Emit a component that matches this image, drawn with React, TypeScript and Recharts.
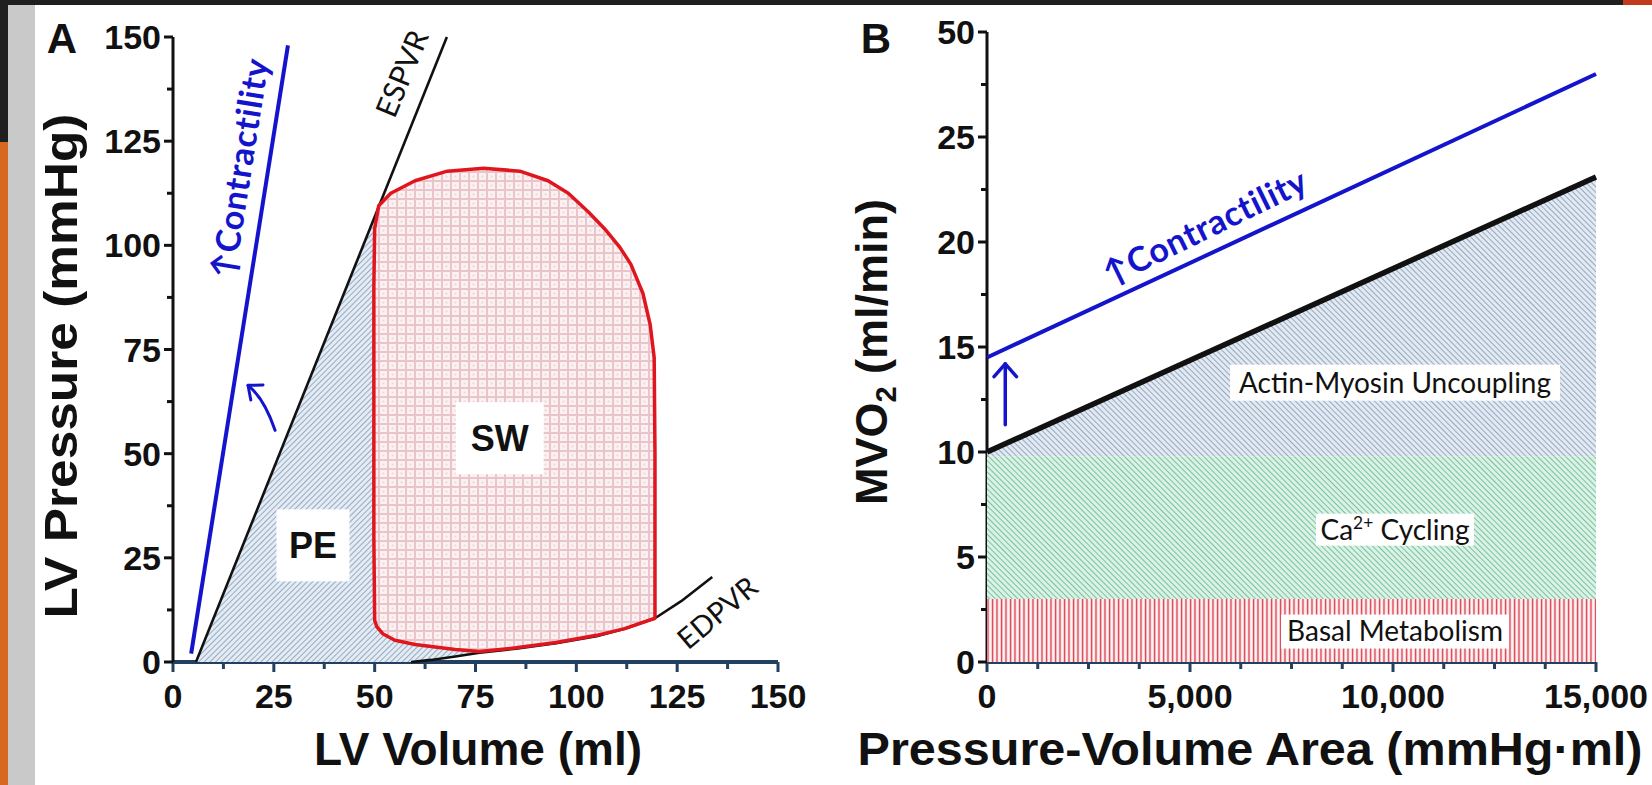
import React from 'react';
import { Scatter, ScatterChart, XAxis, YAxis } from 'recharts';

type Pt = { x: number; y: number };

const BOLD = '"Liberation Sans", Arial, sans-serif';
const SOFT = 'Lato, "Open Sans", sans-serif';
const BLUE = '#1414cc';
const RED = '#e0161e';
const NAVY = '#22405f';
const INK = '#111';

// ---------- panel A: pressure-volume plane ----------
const volTicks = [0, 12.5, 25, 37.5, 50, 62.5, 75, 87.5, 100, 112.5, 125, 137.5, 150];
const volMajor = [0, 25, 50, 75, 100, 125, 150];
const volLabels = ['0', '25', '50', '75', '100', '125', '150'];
const pressTicks = [0, 12.5, 25, 37.5, 50, 62.5, 75, 87.5, 100, 112.5, 125, 137.5, 150];
const pressMajor = [0, 25, 50, 75, 100, 125, 150];
const pressLabels = ['0', '25', '50', '75', '100', '125', '150'];

const contractilityA: Pt[] = [{ x: 4.5, y: 2 }, { x: 28.5, y: 148 }];
const espvr: Pt[] = [{ x: 5.7, y: 0 }, { x: 67.9, y: 150 }];
const edpvr: Pt[] = [
  { x: 59, y: 0 }, { x: 64, y: 0.5 }, { x: 70, y: 1.3 }, { x: 76, y: 2.2 },
  { x: 85, y: 3.2 }, { x: 95, y: 4.5 }, { x: 105, y: 6.2 }, { x: 112, y: 8 },
  { x: 119.5, y: 10.5 }, { x: 126, y: 14.6 }, { x: 133.7, y: 20.4 },
];
const pvLoop: Pt[] = [
  { x: 50, y: 10 }, { x: 49.8, y: 30 }, { x: 49.8, y: 60 }, { x: 49.8, y: 90 },
  { x: 50, y: 104 }, { x: 51, y: 109.5 }, { x: 54, y: 112.5 }, { x: 60, y: 115.5 },
  { x: 68, y: 117.8 }, { x: 77, y: 118.5 }, { x: 86, y: 117.8 }, { x: 93, y: 115.5 },
  { x: 98, y: 112.5 }, { x: 103, y: 108 }, { x: 107, y: 104 }, { x: 110.8, y: 99.5 },
  { x: 113.5, y: 95.5 }, { x: 116.5, y: 88.5 }, { x: 118.3, y: 81 }, { x: 119.3, y: 73 },
  { x: 119.5, y: 50 }, { x: 119.5, y: 25 }, { x: 119.5, y: 10.5 }, { x: 112, y: 8 },
  { x: 105, y: 6.4 }, { x: 95, y: 4.7 }, { x: 85, y: 3.4 }, { x: 76, y: 2.5 },
  { x: 70, y: 3 }, { x: 65, y: 3.6 }, { x: 60, y: 4.2 }, { x: 55, y: 5.2 },
  { x: 52, y: 6.8 }, { x: 50.5, y: 8.5 }, { x: 50, y: 10 },
];
const peArea: Pt[] = [
  { x: 5.7, y: 0 }, { x: 50.8, y: 108.7 }, { x: 49.8, y: 90 }, { x: 49.8, y: 30 },
  { x: 50, y: 10 }, { x: 50.5, y: 8.5 }, { x: 52, y: 6.8 }, { x: 55, y: 5.2 },
  { x: 60, y: 4.2 }, { x: 65, y: 3.6 }, { x: 70, y: 3 }, { x: 76, y: 2.4 },
  { x: 70, y: 1.3 }, { x: 64, y: 0.5 }, { x: 59, y: 0 },
];
const curvedArrowA: Pt[] = [{ x: 25.3, y: 55.6 }, { x: 22.3, y: 62.1 }, { x: 18.6, y: 66.4 }];

const peLabel = [{ x: 34.7, y: 28, text: 'PE' }];
const swLabel = [{ x: 81, y: 53.7, text: 'SW' }];
const espvrLabel = [{ x: 56.8, y: 141.2, text: 'ESPVR' }];
const edpvrLabel = [{ x: 135, y: 11.8, text: 'EDPVR' }];
const contractLabelA = [{ x: 16.6, y: 118.5, text: '\u2191Contractility' }];

// ---------- panel B: MVO2 vs PVA ----------
const pvaTicks = [0, 1250, 2500, 3750, 5000, 6250, 7500, 8750, 10000, 11250, 12500, 13750, 15000];
const pvaMajor = [0, 5000, 10000, 15000];
const pvaLabels = ['0', '5,000', '10,000', '15,000'];
const mvoTicks = [0, 2.5, 5, 7.5, 10, 12.5, 15, 17.5, 20, 22.5, 25, 27.5, 30];
const mvoMajor = [0, 5, 10, 15, 20, 25, 30];
const mvoLabels = ['0', '5', '10', '15', '20', '25', '50'];

const basal: Pt[] = [{ x: 0, y: 0 }, { x: 0, y: 3 }, { x: 15000, y: 3 }, { x: 15000, y: 0 }];
const caCycling: Pt[] = [{ x: 0, y: 3 }, { x: 0, y: 9.8 }, { x: 15000, y: 9.8 }, { x: 15000, y: 3 }];
const uncoupling: Pt[] = [{ x: 0, y: 9.8 }, { x: 0, y: 10 }, { x: 15000, y: 23.1 }, { x: 15000, y: 9.8 }];
const mvo2Line: Pt[] = [{ x: 0, y: 10 }, { x: 15000, y: 23.1 }];
const mvo2Contract: Pt[] = [{ x: 0, y: 14.5 }, { x: 15000, y: 28 }];
const arrowB: Pt[] = [{ x: 450, y: 11.3 }, { x: 450, y: 14.2 }];

const uncouplingLabel = [{ x: 10050, y: 13.3, text: 'Actin-Myosin Uncoupling' }];
const caLabel = [{ x: 10050, y: 6.3, text: 'Ca', sup: '2+', rest: ' Cycling' }];
const basalLabel = [{ x: 10050, y: 1.45, text: 'Basal Metabolism' }];
const contractLabelB = [{ x: 5370, y: 20.7, text: '\u2191Contractility' }];

// ---------- renderers ----------
const noDot = () => <g />;

const xTick = (majors: number[], labels: string[]) => (props: any) => {
  const { x, y, payload } = props;
  const i = majors.indexOf(payload.value);
  return (
    <g>
      <line x1={x} x2={x} y1={y} y2={y + (i >= 0 ? 10 : 7)} stroke={NAVY} strokeWidth={3} />
      {i >= 0 && (
        <text x={x} y={y + 46} textAnchor="middle" fontFamily={BOLD} fontWeight="bold" fontSize={34} fill={INK}>
          {labels[i]}
        </text>
      )}
    </g>
  );
};

const yTick = (majors: number[], labels: string[]) => (props: any) => {
  const { x, y, payload } = props;
  const i = majors.indexOf(payload.value);
  return (
    <g>
      <line x1={x} x2={x - (i >= 0 ? 9 : 6)} y1={y} y2={y} stroke={INK} strokeWidth={3} />
      {i >= 0 && (
        <text x={x - 12} y={y + 12} textAnchor="end" fontFamily={BOLD} fontWeight="bold" fontSize={34} fill={INK}>
          {labels[i]}
        </text>
      )}
    </g>
  );
};

const polygon = (fill: string, stroke = 'none', width = 0) => (p: any) => {
  const pts: Pt[] = p.points;
  const d = pts.map((q, i) => `${i ? 'L' : 'M'}${q.x},${q.y}`).join(' ') + ' Z';
  return <path d={d} fill={fill} stroke={stroke} strokeWidth={width} strokeLinejoin="round" />;
};

const polyline = (stroke: string, width: number) => (p: any) => {
  const pts: Pt[] = p.points;
  const d = pts.map((q, i) => `${i ? 'L' : 'M'}${q.x},${q.y}`).join(' ');
  return <path d={d} fill="none" stroke={stroke} strokeWidth={width} strokeLinejoin="round" />;
};

const arrow = (color: string, width: number, head: number, spread: number) => (p: any) => {
  const pts: Pt[] = p.points;
  const a = pts[0];
  const b = pts[pts.length - 1];
  let d: string;
  let from: Pt;
  if (pts.length === 3) {
    const m = pts[1];
    const c = { x: 2 * m.x - (a.x + b.x) / 2, y: 2 * m.y - (a.y + b.y) / 2 };
    d = `M${a.x},${a.y} Q${c.x},${c.y} ${b.x},${b.y}`;
    from = c;
  } else {
    d = `M${a.x},${a.y} L${b.x},${b.y}`;
    from = a;
  }
  const ang = Math.atan2(b.y - from.y, b.x - from.x);
  const h1 = { x: b.x - head * Math.cos(ang - spread), y: b.y - head * Math.sin(ang - spread) };
  const h2 = { x: b.x - head * Math.cos(ang + spread), y: b.y - head * Math.sin(ang + spread) };
  return (
    <g fill="none" stroke={color} strokeWidth={width} strokeLinecap="round" strokeLinejoin="round">
      <path d={d} />
      <path d={`M${h1.x},${h1.y} L${b.x},${b.y} L${h2.x},${h2.y}`} />
    </g>
  );
};

const boxedText = (w: number, h: number, size: number, family: string, weight: string | number) => (p: any) => {
  const { cx, cy, payload } = p;
  return (
    <g>
      <rect x={cx - w / 2} y={cy - h / 2} width={w} height={h} fill="#fff" />
      <text x={cx} y={cy} dy={size * 0.35} textAnchor="middle" fontFamily={family} fontWeight={weight} fontSize={size} fill={INK}>
        {payload.text}
        {payload.sup && (
          <tspan dy={-size * 0.38} fontSize={size * 0.62}>
            {payload.sup}
          </tspan>
        )}
        {payload.rest && <tspan dy={size * 0.38}>{payload.rest}</tspan>}
      </text>
    </g>
  );
};

const rotatedText = (angle: number, size: number, color: string, weight: string | number, spacing = 0) => (p: any) => {
  const { cx, cy, payload } = p;
  return (
    <text
      x={cx}
      y={cy}
      dy={size * 0.35}
      transform={`rotate(${angle} ${cx} ${cy})`}
      textAnchor="middle"
      fontFamily={SOFT}
      fontWeight={weight}
      fontSize={size}
      letterSpacing={spacing}
      fill={color}
    >
      {payload.text}
    </text>
  );
};

const S = { isAnimationActive: false, shape: noDot } as const;

const PanelA = () => (
  <ScatterChart width={830} height={785} margin={{ top: 37, right: 52, bottom: 63, left: 123 }}>
    <XAxis
      type="number"
      dataKey="x"
      domain={[0, 150]}
      ticks={volTicks}
      interval={0}
      tickSize={0}
      tickMargin={0}
      tickLine={false}
      axisLine={{ stroke: NAVY, strokeWidth: 4 }}
      tick={xTick(volMajor, volLabels)}
      height={60}
    />
    <YAxis
      type="number"
      dataKey="y"
      domain={[0, 150]}
      ticks={pressTicks}
      interval={0}
      tickSize={0}
      tickMargin={0}
      tickLine={false}
      axisLine={{ stroke: INK, strokeWidth: 3 }}
      tick={yTick(pressMajor, pressLabels)}
      width={50}
    />
    <Scatter {...S} data={peArea} line={polygon('url(#hatchBlue)')} />
    <Scatter {...S} data={pvLoop} line={polygon('url(#checkRed)')} />
    <Scatter {...S} data={espvr} line={polyline(INK, 2.6)} />
    <Scatter {...S} data={edpvr} line={polyline(INK, 2.6)} />
    <Scatter {...S} data={pvLoop} line={polygon('none', RED, 3.5)} />
    <Scatter {...S} data={contractilityA} line={polyline(BLUE, 4)} />
    <Scatter {...S} data={curvedArrowA} line={arrow(BLUE, 3, 15, 0.7)} />
    <Scatter {...S} data={peLabel} shape={boxedText(73, 72, 36, BOLD, 'bold')} />
    <Scatter {...S} data={swLabel} shape={boxedText(88, 72, 36, BOLD, 'bold')} />
    <Scatter {...S} data={espvrLabel} shape={rotatedText(-67.5, 30, INK, 400)} />
    <Scatter {...S} data={edpvrLabel} shape={rotatedText(-40, 29, INK, 400)} />
    <Scatter {...S} data={contractLabelA} shape={rotatedText(-81, 34, BLUE, 700, 0.6)} />
  </ScatterChart>
);

const PanelB = () => (
  <ScatterChart width={832} height={785} margin={{ top: 32, right: 56, bottom: 63, left: 117 }}>
    <XAxis
      type="number"
      dataKey="x"
      domain={[0, 15000]}
      ticks={pvaTicks}
      interval={0}
      tickSize={0}
      tickMargin={0}
      tickLine={false}
      axisLine={{ stroke: NAVY, strokeWidth: 4 }}
      tick={xTick(pvaMajor, pvaLabels)}
      height={60}
    />
    <YAxis
      type="number"
      dataKey="y"
      domain={[0, 30]}
      ticks={mvoTicks}
      interval={0}
      tickSize={0}
      tickMargin={0}
      tickLine={false}
      axisLine={{ stroke: INK, strokeWidth: 3 }}
      tick={yTick(mvoMajor, mvoLabels)}
      width={50}
    />
    <Scatter {...S} data={basal} line={polygon('url(#stripeRed)')} />
    <Scatter {...S} data={caCycling} line={polygon('url(#hatchGreen)')} />
    <Scatter {...S} data={uncoupling} line={polygon('url(#hatchBlue2)')} />
    <Scatter {...S} data={mvo2Line} line={polyline(INK, 5.5)} />
    <Scatter {...S} data={mvo2Contract} line={polyline(BLUE, 4)} />
    <Scatter {...S} data={arrowB} line={arrow(BLUE, 3.5, 17, 0.72)} />
    <Scatter {...S} data={uncouplingLabel} shape={boxedText(330, 36, 28, SOFT, 400)} />
    <Scatter {...S} data={caLabel} shape={boxedText(158, 32, 28, SOFT, 400)} />
    <Scatter {...S} data={basalLabel} shape={boxedText(228, 34, 28, SOFT, 400)} />
    <Scatter {...S} data={contractLabelB} shape={rotatedText(-26, 34, BLUE, 700, 0.6)} />
  </ScatterChart>
);

const Patterns = () => (
  <svg width={0} height={0} style={{ position: 'absolute' }}>
    <defs>
      <pattern id="hatchBlue" width={4} height={4} patternUnits="userSpaceOnUse" patternTransform="rotate(45)">
        <rect width={4} height={4} fill="#e4ebf2" />
        <line x1={0} y1={0} x2={0} y2={4} stroke="#7f9bbb" strokeWidth={1.6} />
      </pattern>
      <pattern id="hatchBlue2" width={4} height={4} patternUnits="userSpaceOnUse" patternTransform="rotate(-45)">
        <rect width={4} height={4} fill="#e2e9f1" />
        <line x1={0} y1={0} x2={0} y2={4} stroke="#8299b8" strokeWidth={1.6} />
      </pattern>
      <pattern id="hatchGreen" width={4} height={4} patternUnits="userSpaceOnUse" patternTransform="rotate(-45)">
        <rect width={4} height={4} fill="#dcf1e6" />
        <line x1={0} y1={0} x2={0} y2={4} stroke="#5cb88c" strokeWidth={1.6} />
      </pattern>
      <pattern id="stripeRed" width={4.5} height={10} patternUnits="userSpaceOnUse">
        <rect width={4.5} height={10} fill="#fff4f4" />
        <line x1={1.5} y1={0} x2={1.5} y2={10} stroke="#dc3e4f" strokeWidth={1.5} />
      </pattern>
      <pattern id="checkRed" width={9} height={9} patternUnits="userSpaceOnUse">
        <rect width={9} height={9} fill="#fbf1f2" />
        <rect x={0} y={0} width={9} height={2} fill="#ebc4c9" />
        <rect x={0} y={0} width={2} height={9} fill="#ebc4c9" />
        <circle cx={5.5} cy={5.5} r={1} fill="#efd2d6" />
      </pattern>
    </defs>
  </svg>
);

const block = (left: number, top: number, width: number, height: number, background: string) => (
  <div style={{ position: 'absolute', left, top, width, height, background }} />
);

export default function App() {
  return (
    <div style={{ position: 'absolute', left: 0, top: 0, width: 1652, height: 785, background: '#fff', overflow: 'hidden' }}>
      <Patterns />
      {block(0, 0, 1652, 5, '#1f1f1f')}
      {block(1623, 0, 29, 5, '#c23a1c')}
      {block(0, 0, 8, 142, '#1f1f1f')}
      {block(0, 142, 8, 643, '#d8671f')}
      {block(8, 5, 27, 780, '#c9c9c9')}
      <div style={{ position: 'absolute', left: 0, top: 0 }}>
        <PanelA />
      </div>
      <div style={{ position: 'absolute', left: 820, top: 0 }}>
        <PanelB />
      </div>
      <svg width={1652} height={785} style={{ position: 'absolute', left: 0, top: 0, pointerEvents: 'none' }}>
        <g fontFamily={BOLD} fontWeight="bold" fill={INK}>
          <text x={62} y={53} fontSize={42} textAnchor="middle">A</text>
          <text x={876} y={53} fontSize={42} textAnchor="middle">B</text>
          <text
            x={77}
            y={366}
            fontSize={46}
            textAnchor="middle"
            textLength={505}
            lengthAdjust="spacingAndGlyphs"
            transform="rotate(-90 77 366)"
          >
            LV Pressure (mmHg)
          </text>
          <text x={478} y={765} fontSize={46} textAnchor="middle">
            LV Volume (ml)
          </text>
          <text x={887} y={352} fontSize={45} textAnchor="middle" transform="rotate(-90 887 352)">
            MVO<tspan dy={9} fontSize={29}>2</tspan>
            <tspan dy={-9}> (ml/min)</tspan>
          </text>
          <text
            x={1250}
            y={765}
            fontSize={46}
            textAnchor="middle"
            textLength={785}
            lengthAdjust="spacingAndGlyphs"
          >
            Pressure-Volume Area (mmHg·ml)
          </text>
        </g>
      </svg>
    </div>
  );
}
